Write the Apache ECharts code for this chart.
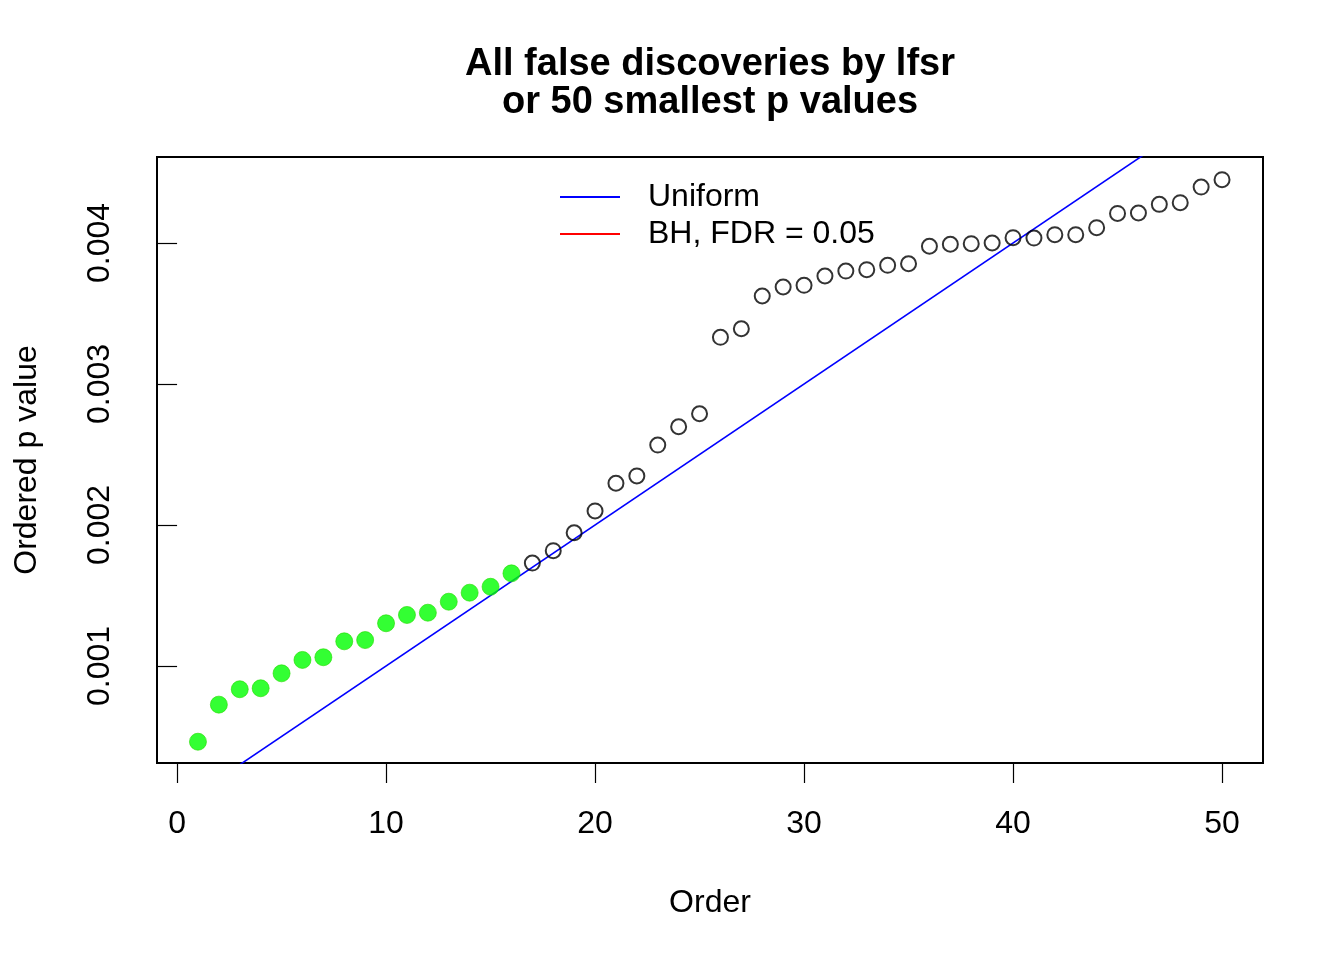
<!DOCTYPE html>
<html>
<head>
<meta charset="utf-8">
<script src="https://cdn.jsdelivr.net/npm/echarts@6/dist/echarts.min.js"></script>
<style>
html,body{margin:0;padding:0;background:#fff;}
#c{width:1344px;height:960px;}
</style>
</head>
<body>
<div id="c"></div>
<script>
// ---- data ----
var titleLines = ['All false discoveries by lfsr', 'or 50 smallest p values'];
var orderIdx = [1,2,3,4,5,6,7,8,9,10,11,12,13,14,15,16,17,18,19,20,21,22,23,24,25,26,27,28,29,30,31,32,33,34,35,36,37,38,39,40,41,42,43,44,45,46,47,48,49,50];
var pValues = [0.000463,0.000726,0.000835,0.000842,0.000948,0.001043,0.001062,0.001175,0.001184,0.001303,
               0.001362,0.001378,0.001456,0.001520,0.001562,0.001657,0.001730,0.001818,0.001945,0.002100,
               0.002296,0.002348,0.002567,0.002697,0.002789,0.003331,0.003392,0.003624,0.003688,0.003700,
               0.003766,0.003801,0.003811,0.003842,0.003853,0.003977,0.003991,0.003995,0.004000,0.004038,
               0.004035,0.004059,0.004059,0.004109,0.004210,0.004213,0.004274,0.004286,0.004397,0.004449];
var nDiscoveries = 16; // first 16 (green) are discoveries by lfsr
var uniformX = [0, 60];
var uniformY = [0, 0.006];
var bhX = [0, 60];
var bhY = [0, 0.0003];
var xTicks = [0, 10, 20, 30, 40, 50];
var yTicks = [0.001, 0.002, 0.003, 0.004];
var legendNames = ['Uniform', 'BH, FDR = 0.05'];

// ---- build ----
var greenPts = [], openPts = [];
for (var i = 0; i < orderIdx.length; i++) {
  if (i < nDiscoveries) greenPts.push([orderIdx[i], pValues[i]]);
  else openPts.push([orderIdx[i], pValues[i]]);
}
var FONT = 'Liberation Sans, Arial, Helvetica, sans-serif';
var chart = echarts.init(document.getElementById('c'), null, {renderer: 'canvas'});
chart.setOption({
  backgroundColor: '#ffffff',
  animation: false,
  title: {
    text: titleLines.join('\n'),
    left: 705, top: 41,
    textAlign: 'center',
    textStyle: {fontFamily: FONT, fontWeight: 'bold', fontSize: 38, lineHeight: 38, color: '#000'}
  },
  legend: {
    data: legendNames.map(function(n){return {name: n};}),
    orient: 'vertical',
    left: 555, top: 176,
    itemWidth: 60, itemHeight: 2,
    itemGap: 5,
    icon: 'rect',
    textStyle: {fontFamily: FONT, fontSize: 32, color: '#000', padding: [0,0,0,23], lineHeight: 32},
    selectedMode: false
  },
  grid: {
    left: 157, top: 157, width: 1106, height: 606,
    show: true, borderColor: '#000', borderWidth: 2, backgroundColor: 'transparent'
  },
  xAxis: {
    type: 'value', min: -0.96, max: 51.96,
    splitLine: {show: false},
    axisLine: {show: false},
    axisTick: {show: true, length: 20, inside: false, customValues: xTicks, lineStyle: {color: '#000', width: 1.2}},
    axisLabel: {customValues: xTicks, margin: 45, fontFamily: FONT, fontSize: 32, color: '#000'},
    name: 'Order', nameLocation: 'middle', nameGap: 124,
    nameTextStyle: {fontFamily: FONT, fontSize: 32, color: '#000'}
  },
  yAxis: {
    type: 'value', min: 0.000312, max: 0.00461,
    splitLine: {show: false},
    axisLine: {show: false},
    axisTick: {show: true, length: 20, inside: false, customValues: yTicks, lineStyle: {color: '#000', width: 1.2}},
    axisLabel: {customValues: yTicks, rotate: 90, margin: 41, fontFamily: FONT, fontSize: 32, color: '#000',
      formatter: function(v){ return v.toFixed(3); }},
    name: 'Ordered p value', nameLocation: 'middle', nameRotate: 90, nameGap: 114,
    nameTextStyle: {fontFamily: FONT, fontSize: 32, color: '#000'}
  },
  series: [
    {
      name: legendNames[0], type: 'line', symbol: 'none', silent: true,
      data: uniformX.map(function(x, k){return [x, uniformY[k]];}),
      lineStyle: {color: '#0000ff', width: 1.6}, itemStyle: {color: '#0000ff'}, clip: true, z: 2
    },
    {
      name: legendNames[1], type: 'line', symbol: 'none', silent: true,
      data: bhX.map(function(x, k){return [x, bhY[k]];}),
      lineStyle: {color: '#ff0000', width: 1.6}, itemStyle: {color: '#ff0000'}, clip: true, z: 2
    },
    {
      name: 'open', type: 'scatter', data: openPts, symbol: 'circle', symbolSize: 15,
      itemStyle: {color: 'transparent', borderColor: '#000', borderWidth: 2}, z: 3
    },
    {
      name: 'disc', type: 'scatter', data: greenPts, symbol: 'circle', symbolSize: 17,
      itemStyle: {color: '#00ff00', borderColor: '#22dd00', borderWidth: 0.8}, z: 3
    }
  ]
});
</script>
</body>
</html>
